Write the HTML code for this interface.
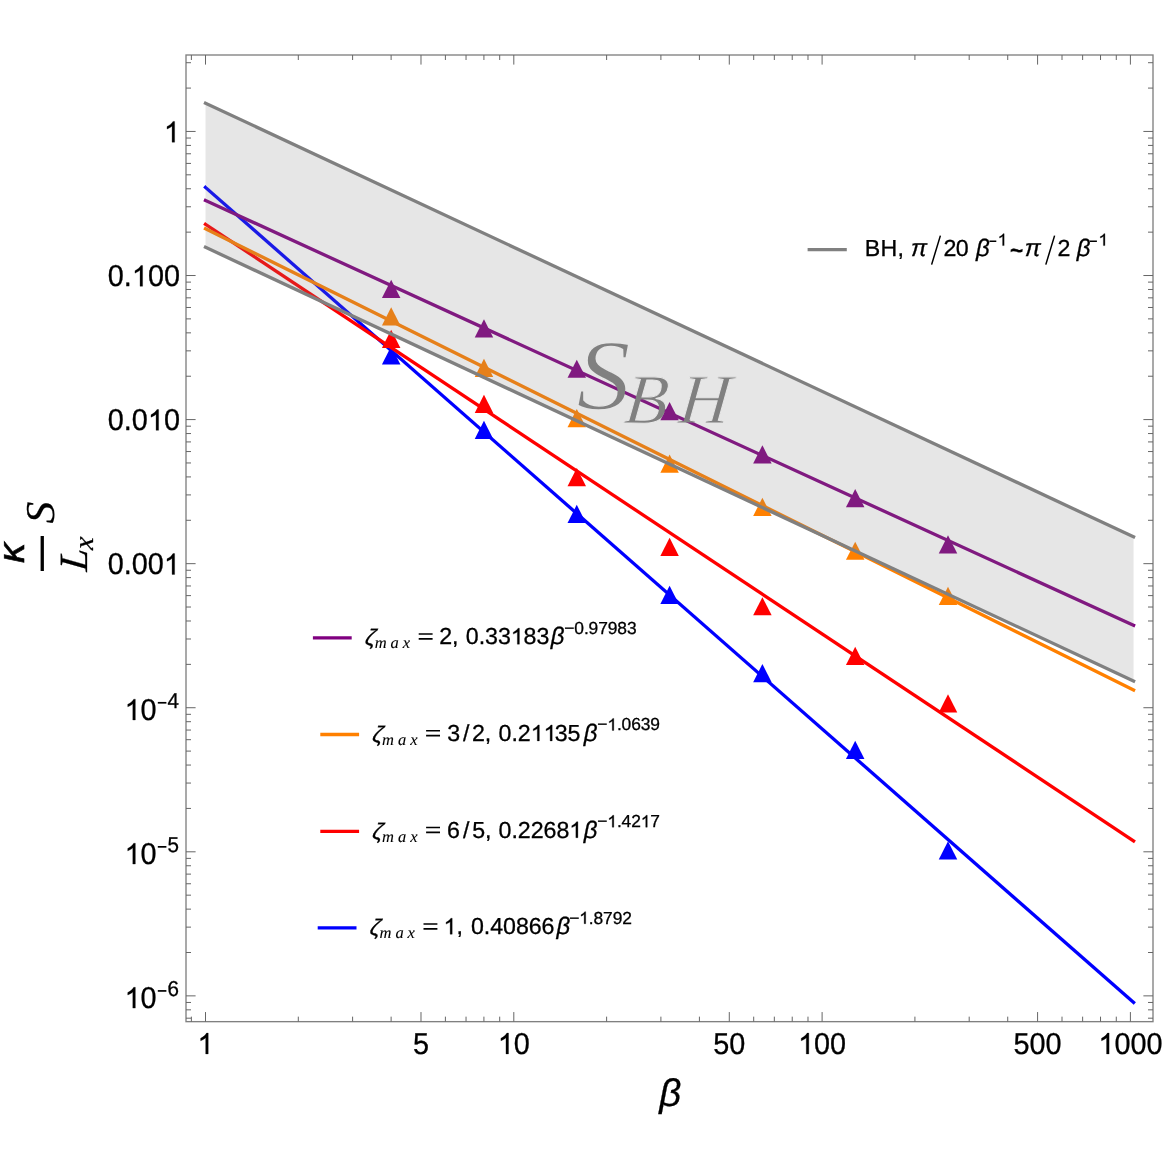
<!DOCTYPE html>
<html><head><meta charset="utf-8"><title>plot</title>
<style>
html,body{margin:0;padding:0;background:#fff;}
svg{display:block;will-change:transform;}
text{font-family:"Liberation Sans",sans-serif;fill:#000;stroke:#000;stroke-width:0.3px;text-rendering:geometricPrecision;}
.si{font-family:"Liberation Sans",sans-serif;font-style:italic;}
.ri{font-family:"Liberation Serif",serif;font-style:italic;stroke-width:0.1px;}
.h{fill:none!important;stroke:none!important;}
</style></head><body>
<svg width="1163" height="1163" viewBox="0 0 1163 1163">
<rect width="1163" height="1163" fill="#fff"/>
<g fill="#0000ff" stroke="none">
<line x1="205.50" y1="187.44" x2="1133.58" y2="1002.44" stroke="#0000ff" stroke-width="3.3" stroke-linecap="square"/>
<polygon points="381.92,364.55 400.42,364.55 391.17,346.35"/>
<polygon points="474.72,439.05 493.22,439.05 483.97,420.85"/>
<polygon points="567.53,523.05 586.03,523.05 576.78,504.85"/>
<polygon points="660.34,604.05 678.84,604.05 669.59,585.85"/>
<polygon points="753.15,682.25 771.65,682.25 762.40,664.05"/>
<polygon points="845.95,758.95 864.45,758.95 855.20,740.75"/>
<polygon points="938.76,859.55 957.26,859.55 948.01,841.35"/>
</g>
<g fill="#ff0000" stroke="none">
<line x1="205.50" y1="224.28" x2="1133.58" y2="840.86" stroke="#ff0000" stroke-width="3.3" stroke-linecap="square"/>
<polygon points="381.92,347.95 400.42,347.95 391.17,329.75"/>
<polygon points="474.72,413.05 493.22,413.05 483.97,394.85"/>
<polygon points="567.53,486.15 586.03,486.15 576.78,467.95"/>
<polygon points="660.34,555.95 678.84,555.95 669.59,537.75"/>
<polygon points="753.15,615.35 771.65,615.35 762.40,597.15"/>
<polygon points="845.95,665.05 864.45,665.05 855.20,646.85"/>
<polygon points="938.76,712.45 957.26,712.45 948.01,694.25"/>
</g>
<g fill="#ff8000" stroke="none">
<line x1="205.50" y1="228.70" x2="1133.58" y2="690.10" stroke="#ff8000" stroke-width="3.3" stroke-linecap="square"/>
<polygon points="381.92,325.55 400.42,325.55 391.17,307.35"/>
<polygon points="474.72,376.95 493.22,376.95 483.97,358.75"/>
<polygon points="567.53,427.15 586.03,427.15 576.78,408.95"/>
<polygon points="660.34,472.75 678.84,472.75 669.59,454.55"/>
<polygon points="753.15,516.05 771.65,516.05 762.40,497.85"/>
<polygon points="845.95,559.85 864.45,559.85 855.20,541.65"/>
<polygon points="938.76,605.05 957.26,605.05 948.01,586.85"/>
</g>
<g fill="#800080" stroke="none">
<line x1="205.50" y1="200.47" x2="1133.58" y2="625.42" stroke="#800080" stroke-width="3.3" stroke-linecap="square"/>
<polygon points="381.92,298.05 400.42,298.05 391.17,279.85"/>
<polygon points="474.72,337.45 493.22,337.45 483.97,319.25"/>
<polygon points="567.53,377.85 586.03,377.85 576.78,359.65"/>
<polygon points="660.34,420.25 678.84,420.25 669.59,402.05"/>
<polygon points="753.15,463.45 771.65,463.45 762.40,445.25"/>
<polygon points="845.95,507.25 864.45,507.25 855.20,489.05"/>
<polygon points="938.76,553.45 957.26,553.45 948.01,535.25"/>
</g>
<polygon points="205.50,103.20 1133.58,536.89 1133.58,680.96 205.50,247.27" fill="#808080" fill-opacity="0.2"/>
<line x1="205.50" y1="103.20" x2="1133.58" y2="536.89" stroke="#808080" stroke-width="3.3" stroke-linecap="square"/>
<line x1="205.50" y1="247.27" x2="1133.58" y2="680.96" stroke="#808080" stroke-width="3.3" stroke-linecap="square"/>
<rect x="186.0" y="55.0" width="967.00" height="966.65" fill="none" stroke="#808080" stroke-width="1.35"/>
<path stroke="#666" stroke-width="1" fill="none" d="M205.50 1021.65V1012.05M205.50 55.0V64.60M420.99 1021.65V1012.05M420.99 55.0V64.60M513.80 1021.65V1012.05M513.80 55.0V64.60M729.29 1021.65V1012.05M729.29 55.0V64.60M822.10 1021.65V1012.05M822.10 55.0V64.60M1037.59 1021.65V1012.05M1037.59 55.0V64.60M1130.40 1021.65V1012.05M1130.40 55.0V64.60M191.39 1021.65V1016.65M191.39 55.0V60.00M298.31 1021.65V1016.65M298.31 55.0V60.00M352.60 1021.65V1016.65M352.60 55.0V60.00M391.12 1021.65V1016.65M391.12 55.0V60.00M445.40 1021.65V1016.65M445.40 55.0V60.00M466.04 1021.65V1016.65M466.04 55.0V60.00M483.92 1021.65V1016.65M483.92 55.0V60.00M499.69 1021.65V1016.65M499.69 55.0V60.00M606.61 1021.65V1016.65M606.61 55.0V60.00M660.90 1021.65V1016.65M660.90 55.0V60.00M699.42 1021.65V1016.65M699.42 55.0V60.00M753.70 1021.65V1016.65M753.70 55.0V60.00M774.34 1021.65V1016.65M774.34 55.0V60.00M792.22 1021.65V1016.65M792.22 55.0V60.00M807.99 1021.65V1016.65M807.99 55.0V60.00M914.91 1021.65V1016.65M914.91 55.0V60.00M969.20 1021.65V1016.65M969.20 55.0V60.00M1007.72 1021.65V1016.65M1007.72 55.0V60.00M1062.00 1021.65V1016.65M1062.00 55.0V60.00M1082.64 1021.65V1016.65M1082.64 55.0V60.00M1100.52 1021.65V1016.65M1100.52 55.0V60.00M1116.29 1021.65V1016.65M1116.29 55.0V60.00M186.0 131.45H195.60M1153.0 131.45H1143.40M186.0 275.52H195.60M1153.0 275.52H1143.40M186.0 419.59H195.60M1153.0 419.59H1143.40M186.0 563.66H195.60M1153.0 563.66H1143.40M186.0 707.73H195.60M1153.0 707.73H1143.40M186.0 851.80H195.60M1153.0 851.80H1143.40M186.0 995.87H195.60M1153.0 995.87H1143.40M186.0 88.08H191.00M1153.0 88.08H1148.00M186.0 62.71H191.00M1153.0 62.71H1148.00M186.0 232.15H191.00M1153.0 232.15H1148.00M186.0 206.78H191.00M1153.0 206.78H1148.00M186.0 188.78H191.00M1153.0 188.78H1148.00M186.0 174.82H191.00M1153.0 174.82H1148.00M186.0 163.41H191.00M1153.0 163.41H1148.00M186.0 153.77H191.00M1153.0 153.77H1148.00M186.0 145.41H191.00M1153.0 145.41H1148.00M186.0 138.04H191.00M1153.0 138.04H1148.00M186.0 376.22H191.00M1153.0 376.22H1148.00M186.0 350.85H191.00M1153.0 350.85H1148.00M186.0 332.85H191.00M1153.0 332.85H1148.00M186.0 318.89H191.00M1153.0 318.89H1148.00M186.0 307.48H191.00M1153.0 307.48H1148.00M186.0 297.84H191.00M1153.0 297.84H1148.00M186.0 289.48H191.00M1153.0 289.48H1148.00M186.0 282.11H191.00M1153.0 282.11H1148.00M186.0 520.29H191.00M1153.0 520.29H1148.00M186.0 494.92H191.00M1153.0 494.92H1148.00M186.0 476.92H191.00M1153.0 476.92H1148.00M186.0 462.96H191.00M1153.0 462.96H1148.00M186.0 451.55H191.00M1153.0 451.55H1148.00M186.0 441.91H191.00M1153.0 441.91H1148.00M186.0 433.55H191.00M1153.0 433.55H1148.00M186.0 426.18H191.00M1153.0 426.18H1148.00M186.0 664.36H191.00M1153.0 664.36H1148.00M186.0 638.99H191.00M1153.0 638.99H1148.00M186.0 620.99H191.00M1153.0 620.99H1148.00M186.0 607.03H191.00M1153.0 607.03H1148.00M186.0 595.62H191.00M1153.0 595.62H1148.00M186.0 585.98H191.00M1153.0 585.98H1148.00M186.0 577.62H191.00M1153.0 577.62H1148.00M186.0 570.25H191.00M1153.0 570.25H1148.00M186.0 808.43H191.00M1153.0 808.43H1148.00M186.0 783.06H191.00M1153.0 783.06H1148.00M186.0 765.06H191.00M1153.0 765.06H1148.00M186.0 751.10H191.00M1153.0 751.10H1148.00M186.0 739.69H191.00M1153.0 739.69H1148.00M186.0 730.05H191.00M1153.0 730.05H1148.00M186.0 721.69H191.00M1153.0 721.69H1148.00M186.0 714.32H191.00M1153.0 714.32H1148.00M186.0 952.50H191.00M1153.0 952.50H1148.00M186.0 927.13H191.00M1153.0 927.13H1148.00M186.0 909.13H191.00M1153.0 909.13H1148.00M186.0 895.17H191.00M1153.0 895.17H1148.00M186.0 883.76H191.00M1153.0 883.76H1148.00M186.0 874.12H191.00M1153.0 874.12H1148.00M186.0 865.76H191.00M1153.0 865.76H1148.00M186.0 858.39H191.00M1153.0 858.39H1148.00M186.0 1018.19H191.00M1153.0 1018.19H1148.00M186.0 1009.83H191.00M1153.0 1009.83H1148.00M186.0 1002.46H191.00M1153.0 1002.46H1148.00"/>
<text transform="translate(197.49 1053.90) scale(1 1.05)" font-size="28.8"><tspan class="h">1</tspan></text>
<path transform="translate(197.49 1053.90) scale(0.014063 -0.014766)" d="M763 0H583V1098Q518 1038 412 979T223 890V1057Q374 1124 487 1221T647 1409H763Z" fill="#000" stroke="#000" stroke-width="0.3" vector-effect="non-scaling-stroke"/>
<text transform="translate(412.98 1053.90) scale(1 1.05)" font-size="28.8">5</text>
<text transform="translate(497.78 1053.90) scale(1 1.05)" font-size="28.8"><tspan class="h">1</tspan>0</text>
<path transform="translate(497.78 1053.90) scale(0.014063 -0.014766)" d="M763 0H583V1098Q518 1038 412 979T223 890V1057Q374 1124 487 1221T647 1409H763Z" fill="#000" stroke="#000" stroke-width="0.3" vector-effect="non-scaling-stroke"/>
<text transform="translate(713.28 1053.90) scale(1 1.05)" font-size="28.8">50</text>
<text transform="translate(798.07 1053.90) scale(1 1.05)" font-size="28.8"><tspan class="h">1</tspan>00</text>
<path transform="translate(798.07 1053.90) scale(0.014063 -0.014766)" d="M763 0H583V1098Q518 1038 412 979T223 890V1057Q374 1124 487 1221T647 1409H763Z" fill="#000" stroke="#000" stroke-width="0.3" vector-effect="non-scaling-stroke"/>
<text transform="translate(1013.57 1053.90) scale(1 1.05)" font-size="28.8">500</text>
<text transform="translate(1098.37 1053.90) scale(1 1.05)" font-size="28.8"><tspan class="h">1</tspan>000</text>
<path transform="translate(1098.37 1053.90) scale(0.014063 -0.014766)" d="M763 0H583V1098Q518 1038 412 979T223 890V1057Q374 1124 487 1221T647 1409H763Z" fill="#000" stroke="#000" stroke-width="0.3" vector-effect="non-scaling-stroke"/>
<text transform="translate(163.88 142.20) scale(1 1.05)" font-size="28.8"><tspan class="h">1</tspan></text>
<path transform="translate(163.88 142.20) scale(0.014063 -0.014766)" d="M763 0H583V1098Q518 1038 412 979T223 890V1057Q374 1124 487 1221T647 1409H763Z" fill="#000" stroke="#000" stroke-width="0.3" vector-effect="non-scaling-stroke"/>
<text transform="translate(107.83 286.27) scale(1 1.05)" font-size="28.8">0.<tspan class="h">1</tspan>00</text>
<path transform="translate(131.85 286.27) scale(0.014063 -0.014766)" d="M763 0H583V1098Q518 1038 412 979T223 890V1057Q374 1124 487 1221T647 1409H763Z" fill="#000" stroke="#000" stroke-width="0.3" vector-effect="non-scaling-stroke"/>
<text transform="translate(107.83 430.34) scale(1 1.05)" font-size="28.8">0.0<tspan class="h">1</tspan>0</text>
<path transform="translate(147.87 430.34) scale(0.014063 -0.014766)" d="M763 0H583V1098Q518 1038 412 979T223 890V1057Q374 1124 487 1221T647 1409H763Z" fill="#000" stroke="#000" stroke-width="0.3" vector-effect="non-scaling-stroke"/>
<text transform="translate(107.83 574.41) scale(1 1.05)" font-size="28.8">0.00<tspan class="h">1</tspan></text>
<path transform="translate(163.88 574.41) scale(0.014063 -0.014766)" d="M763 0H583V1098Q518 1038 412 979T223 890V1057Q374 1124 487 1221T647 1409H763Z" fill="#000" stroke="#000" stroke-width="0.3" vector-effect="non-scaling-stroke"/>
<text transform="translate(124.60 719.98) scale(1 1.05)" font-size="28.8"><tspan class="h">1</tspan>0</text>
<path transform="translate(124.60 719.98) scale(0.014063 -0.014766)" d="M763 0H583V1098Q518 1038 412 979T223 890V1057Q374 1124 487 1221T647 1409H763Z" fill="#000" stroke="#000" stroke-width="0.3" vector-effect="non-scaling-stroke"/>
<text class="h" x="157" y="708.08" font-size="20.6">−</text>
<text transform="translate(167.60 708.08) scale(1 1.05)" font-size="20.6">4</text>
<path d="M157.8 702.78h8.6" stroke="#000" stroke-width="1.7"/>
<text transform="translate(124.60 864.05) scale(1 1.05)" font-size="28.8"><tspan class="h">1</tspan>0</text>
<path transform="translate(124.60 864.05) scale(0.014063 -0.014766)" d="M763 0H583V1098Q518 1038 412 979T223 890V1057Q374 1124 487 1221T647 1409H763Z" fill="#000" stroke="#000" stroke-width="0.3" vector-effect="non-scaling-stroke"/>
<text class="h" x="157" y="852.15" font-size="20.6">−</text>
<text transform="translate(167.60 852.15) scale(1 1.05)" font-size="20.6">5</text>
<path d="M157.8 846.85h8.6" stroke="#000" stroke-width="1.7"/>
<text transform="translate(124.60 1008.12) scale(1 1.05)" font-size="28.8"><tspan class="h">1</tspan>0</text>
<path transform="translate(124.60 1008.12) scale(0.014063 -0.014766)" d="M763 0H583V1098Q518 1038 412 979T223 890V1057Q374 1124 487 1221T647 1409H763Z" fill="#000" stroke="#000" stroke-width="0.3" vector-effect="non-scaling-stroke"/>
<text class="h" x="157" y="996.22" font-size="20.6">−</text>
<text transform="translate(167.60 996.22) scale(1 1.05)" font-size="20.6">6</text>
<path d="M157.8 990.92h8.6" stroke="#000" stroke-width="1.7"/>
<text class="si" x="659.3" y="1105.5" font-size="38.5">β</text>
<g transform="translate(0,554) rotate(-90)">
<text class="si" transform="translate(-9.0 23.9) scale(1.07 1)" font-size="37.5" style="stroke-width:0.6px">κ</text>
<rect x="-17" y="40.6" width="35" height="3.3" fill="#000"/>
<text class="ri" transform="translate(-17.8 87.2) skewX(-6)" font-size="40" style="stroke-width:0.3px">L<tspan font-size="28" dy="6">x</tspan></text>
<text class="ri" transform="translate(30.4 53.7) scale(1.07 1)" font-size="41" style="stroke-width:0.15px">S</text>
</g>
<defs><mask id="sbh" maskUnits="userSpaceOnUse" x="560" y="320" width="200" height="120"><text transform="translate(576.6 408.6) scale(1.075 1)" font-size="100.5" style="font-family:'Liberation Serif',serif;font-style:italic;fill:#fff;stroke:#000;stroke-width:1.5px">S</text><text transform="translate(623.0 423.1) skewX(-6)" font-size="70.5" style="font-family:'Liberation Serif',serif;font-style:italic;fill:#fff;stroke:#000;stroke-width:1.1px">B</text><text transform="translate(677.6 423.1) skewX(-6)" font-size="70.5" style="font-family:'Liberation Serif',serif;font-style:italic;fill:#fff;stroke:#000;stroke-width:1.1px">H</text></mask></defs>
<rect x="560" y="320" width="200" height="120" fill="#808080" mask="url(#sbh)"/>
<line x1="312.90" y1="637.80" x2="351.70" y2="637.80" stroke="#800080" stroke-width="3.3"/>
<text class="h" x="418.90" y="644.20" font-size="22.6">=</text>
<path d="M418.70 634.00h13.9M418.70 638.90h13.9" stroke="#000" stroke-width="1.6"/>
<line x1="320.30" y1="734.50" x2="359.10" y2="734.50" stroke="#ff8000" stroke-width="3.3"/>
<text class="h" x="426.30" y="740.90" font-size="22.6">=</text>
<path d="M426.10 730.70h13.9M426.10 735.60h13.9" stroke="#000" stroke-width="1.6"/>
<line x1="320.30" y1="831.30" x2="359.10" y2="831.30" stroke="#ff0000" stroke-width="3.3"/>
<text class="h" x="426.30" y="837.70" font-size="22.6">=</text>
<path d="M426.10 827.50h13.9M426.10 832.40h13.9" stroke="#000" stroke-width="1.6"/>
<line x1="317.70" y1="927.80" x2="356.50" y2="927.80" stroke="#0000ff" stroke-width="3.3"/>
<text class="h" x="423.70" y="934.20" font-size="22.6">=</text>
<path d="M423.50 924.00h13.9M423.50 928.90h13.9" stroke="#000" stroke-width="1.6"/>
<line x1="807.6" y1="249.7" x2="846.8" y2="249.7" stroke="#808080" stroke-width="3.3"/>
<path d="M931.6 264.6L940.4 235.6M1045.8 264.6L1054.6 235.6" stroke="#000" stroke-width="1.5" fill="none"/>
<path d="M989.4 241.2h6.9M1090.0 241.2h6.9" stroke="#000" stroke-width="1.4"/>
<text class="h" font-size="16.8"><tspan x="989" y="245.6">−</tspan><tspan x="1089.6" y="245.6">−</tspan></text><text class="h" font-size="22.6"><tspan x="932" y="255.6">/</tspan><tspan x="1046" y="255.6">/</tspan></text>
<text x="1010.0" y="258.4" font-size="22.6" font-weight="bold">~</text>
<text class="si" transform="translate(364.45 645.10) skewX(-8)" font-size="22.5">ζ</text>
<text class="ri" x="374.7" y="648.10" font-size="16.5" letter-spacing="3.975">max</text>
<text transform="translate(439.15 644.20) scale(1 1.0)" font-size="23.2">2,</text>
<text transform="translate(465.80 644.20) scale(1 1.0)" font-size="23.2" letter-spacing="-0.050">0.33<tspan class="h">1</tspan>83</text>
<path transform="translate(510.75 644.20) scale(0.011328 -0.011328)" d="M763 0H583V1098Q518 1038 412 979T223 890V1057Q374 1124 487 1221T647 1409H763Z" fill="#000" stroke="#000" stroke-width="0.3" vector-effect="non-scaling-stroke"/>
<text class="si" x="550.8" y="644.20" font-size="24">β</text>
<text transform="translate(564.25 633.70) scale(1 1.0)" font-size="17.4" letter-spacing="-0.100">−0.97983</text>
<text class="si" transform="translate(371.85 741.80) skewX(-8)" font-size="22.5">ζ</text>
<text class="ri" x="382.1" y="744.80" font-size="16.5" letter-spacing="3.975">max</text>
<text transform="translate(447.30 740.90) scale(1 1.0)" font-size="23.2">3</text>
<text transform="translate(463.00 740.90) scale(1 1.0)" font-size="23.2">/</text>
<text transform="translate(471.95 740.90) scale(1 1.0)" font-size="23.2">2,</text>
<text transform="translate(498.60 740.90) scale(1 1.0)" font-size="23.2" letter-spacing="-0.050">0.2<tspan class="h">1</tspan><tspan class="h">1</tspan>35</text>
<path transform="translate(530.70 740.90) scale(0.011328 -0.011328)" d="M763 0H583V1098Q518 1038 412 979T223 890V1057Q374 1124 487 1221T647 1409H763Z" fill="#000" stroke="#000" stroke-width="0.3" vector-effect="non-scaling-stroke"/>
<path transform="translate(543.55 740.90) scale(0.011328 -0.011328)" d="M763 0H583V1098Q518 1038 412 979T223 890V1057Q374 1124 487 1221T647 1409H763Z" fill="#000" stroke="#000" stroke-width="0.3" vector-effect="non-scaling-stroke"/>
<text class="si" x="583.8" y="740.90" font-size="24">β</text>
<text transform="translate(597.25 730.40) scale(1 1.0)" font-size="17.4" letter-spacing="-0.100">−<tspan class="h">1</tspan>.0639</text>
<path transform="translate(607.31 730.40) scale(0.008496 -0.008496)" d="M763 0H583V1098Q518 1038 412 979T223 890V1057Q374 1124 487 1221T647 1409H763Z" fill="#000" stroke="#000" stroke-width="0.3" vector-effect="non-scaling-stroke"/>
<text class="si" transform="translate(371.85 838.60) skewX(-8)" font-size="22.5">ζ</text>
<text class="ri" x="382.1" y="841.60" font-size="16.5" letter-spacing="3.975">max</text>
<text transform="translate(447.05 837.70) scale(1 1.0)" font-size="23.2">6</text>
<text transform="translate(463.00 837.70) scale(1 1.0)" font-size="23.2">/</text>
<text transform="translate(472.20 837.70) scale(1 1.0)" font-size="23.2">5,</text>
<text transform="translate(498.60 837.70) scale(1 1.0)" font-size="23.2" letter-spacing="-0.050">0.2268<tspan class="h">1</tspan></text>
<path transform="translate(569.26 837.70) scale(0.011328 -0.011328)" d="M763 0H583V1098Q518 1038 412 979T223 890V1057Q374 1124 487 1221T647 1409H763Z" fill="#000" stroke="#000" stroke-width="0.3" vector-effect="non-scaling-stroke"/>
<text class="si" x="583.8" y="837.70" font-size="24">β</text>
<text transform="translate(597.25 827.20) scale(1 1.0)" font-size="17.4" letter-spacing="-0.100">−<tspan class="h">1</tspan>.42<tspan class="h">1</tspan>7</text>
<path transform="translate(607.31 827.20) scale(0.008496 -0.008496)" d="M763 0H583V1098Q518 1038 412 979T223 890V1057Q374 1124 487 1221T647 1409H763Z" fill="#000" stroke="#000" stroke-width="0.3" vector-effect="non-scaling-stroke"/>
<path transform="translate(640.78 827.20) scale(0.008496 -0.008496)" d="M763 0H583V1098Q518 1038 412 979T223 890V1057Q374 1124 487 1221T647 1409H763Z" fill="#000" stroke="#000" stroke-width="0.3" vector-effect="non-scaling-stroke"/>
<text class="si" transform="translate(369.25 935.10) skewX(-8)" font-size="22.5">ζ</text>
<text class="ri" x="379.5" y="938.10" font-size="16.5" letter-spacing="3.975">max</text>
<text transform="translate(443.55 934.20) scale(1 1.0)" font-size="23.2"><tspan class="h">1</tspan>,</text>
<path transform="translate(443.55 934.20) scale(0.011328 -0.011328)" d="M763 0H583V1098Q518 1038 412 979T223 890V1057Q374 1124 487 1221T647 1409H763Z" fill="#000" stroke="#000" stroke-width="0.3" vector-effect="non-scaling-stroke"/>
<text transform="translate(471.00 934.20) scale(1 1.0)" font-size="23.2" letter-spacing="-0.050">0.40866</text>
<text class="si" x="556.6" y="934.20" font-size="24">β</text>
<text transform="translate(569.15 923.70) scale(1 1.0)" font-size="17.4" letter-spacing="-0.100">−<tspan class="h">1</tspan>.8792</text>
<path transform="translate(579.21 923.70) scale(0.008496 -0.008496)" d="M763 0H583V1098Q518 1038 412 979T223 890V1057Q374 1124 487 1221T647 1409H763Z" fill="#000" stroke="#000" stroke-width="0.3" vector-effect="non-scaling-stroke"/>
<text transform="translate(864.80 255.60) scale(1 1.0)" font-size="23.2" letter-spacing="0.200">BH,</text>
<text class="si" x="911.1" y="255.60" font-size="24">π</text>
<text transform="translate(943.55 255.60) scale(1 1.0)" font-size="23.2" letter-spacing="-0.800">20</text>
<text class="si" x="975.9" y="255.60" font-size="24">β</text>
<text transform="translate(997.65 245.60) scale(1 1.0)" font-size="17.4"><tspan class="h">1</tspan></text>
<path transform="translate(997.65 245.60) scale(0.008496 -0.008496)" d="M763 0H583V1098Q518 1038 412 979T223 890V1057Q374 1124 487 1221T647 1409H763Z" fill="#000" stroke="#000" stroke-width="0.3" vector-effect="non-scaling-stroke"/>
<text class="si" x="1024.8" y="255.60" font-size="24">π</text>
<text transform="translate(1057.45 255.60) scale(1 1.0)" font-size="23.2">2</text>
<text class="si" x="1076.7" y="255.60" font-size="24">β</text>
<text transform="translate(1098.45 245.60) scale(1 1.0)" font-size="17.4"><tspan class="h">1</tspan></text>
<path transform="translate(1098.45 245.60) scale(0.008496 -0.008496)" d="M763 0H583V1098Q518 1038 412 979T223 890V1057Q374 1124 487 1221T647 1409H763Z" fill="#000" stroke="#000" stroke-width="0.3" vector-effect="non-scaling-stroke"/>
</svg>
</body></html>
